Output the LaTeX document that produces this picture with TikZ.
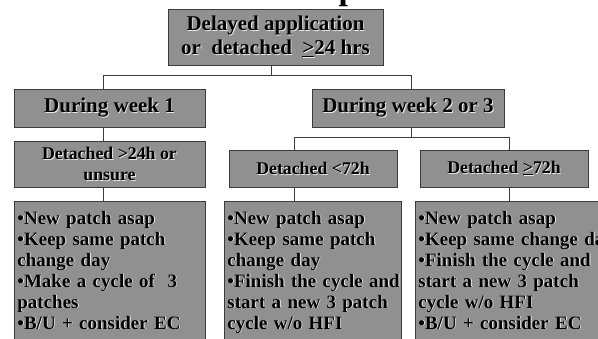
\documentclass[tikz,border=0pt]{standalone}
\usepackage{fontspec}
\setmainfont{Liberation Serif}
\usepackage{tikz}
\definecolor{boxfill}{RGB}{144,144,144}
\definecolor{boxline}{RGB}{60,60,60}
\definecolor{shade}{RGB}{235,235,235}
\newcommand\emb[1]{\mbox{\rlap{\kern0.9pt\raisebox{-0.9pt}{\textcolor{shade}{#1}}}#1}}
\tikzset{
  gbox/.style={draw=boxline, fill=boxfill, line width=0.8pt, inner sep=0pt, align=center},
  bigtxt/.style={font=\bfseries\fontsize{21}{24}\selectfont},
  midtxt/.style={font=\bfseries\fontsize{17.8}{21}\selectfont},
  listbox/.style={gbox, anchor=north west, align=left, inner xsep=3pt, inner ysep=9.5pt,
    font=\bfseries\fontsize{19}{21}\selectfont},
  link/.style={draw=boxline, line width=0.8pt}
}

\begin{document}
\begin{tikzpicture}[x=1pt, y=-1pt]
        \useasboundingbox (0,0) rectangle (598,339);
        \clip (0,0) rectangle (598,339);
        % title, cut off at the top edge
        \node (title) [anchor=base, inner sep=0pt, font=\bfseries\fontsize{34}{40}\selectfont] at (348,0) {p};
        % level 0
        \node (top) [gbox, bigtxt, minimum width=215, minimum height=56] at (275.5,37)
                {\emb{Delayed application}\\\emb{or~ detached~ \underline{>}24 hrs}};
        % level 1
        \node (week1) [gbox, bigtxt, minimum width=191, minimum height=38] at (109.5,108) {\emb{During week 1}};
        \node (week2) [gbox, bigtxt, minimum width=192, minimum height=38] at (408,108) {\emb{During week 2 or 3}};
        % level 2
        \node (det1) [gbox, midtxt, minimum width=191, minimum height=46] at (109.5,164)
                {\emb{Detached >24h or}\\\emb{unsure}};
        \node (det2) [gbox, midtxt, minimum width=168, minimum height=37] at (313,168.5) {\emb{Detached <72h}};
        \node (det3) [gbox, midtxt, minimum width=168, minimum height=37] at (504,168.5) {\emb{Detached \underline{>}72h}};
        % level 3
        \node (list1) [listbox, text width=185] at (14,201)
                {\emb{•New patch asap}\\\emb{•Keep same patch}\\\emb{change day}\\\emb{•Make a cycle of~ 3}\\\emb{patches}\\\emb{•B/U + consider EC}\\~};
        \node (list2) [listbox, text width=171] at (224,201)
                {\emb{•New patch asap}\\\emb{•Keep same patch}\\\emb{change day}\\\emb{•Finish the cycle and}\\\emb{start a new 3 patch}\\\emb{cycle w/o HFI}\\~};
        \node (list3) [listbox, text width=200] at (415,201)
                {\emb{•New patch asap}\\\emb{•Keep same change day}\\\emb{•Finish the cycle and}\\\emb{start a new 3 patch}\\\emb{cycle w/o HFI}\\\emb{•B/U + consider EC}\\~};
        % connectors
        \draw [link] ([xshift=-4.5pt]top.south) -- ++(0,10);
        \draw [link] ([xshift=-6.5pt]week1.north) |- ([xshift=-4.5pt,yshift=-10pt]top.south) -| ([xshift=3pt]week2.north);
        \draw [link] ([xshift=-6.5pt]week1.south) -- ([xshift=-6.5pt]week1.south |- det1.north);
        \draw [link] ([xshift=-6.5pt]det1.south) -- ([xshift=-6.5pt]det1.south |- list1.north);
        \draw [link] ([xshift=3pt]week2.south) -- ++(0,10);
        \draw [link] ([xshift=-19pt]det2.north) |- ([xshift=3pt,yshift=-10pt]week2.south) -| ([xshift=5pt]det3.north);
        \draw [link] ([xshift=-19pt]det2.south) -- ([xshift=-19pt]det2.south |- list2.north);
        \draw [link] ([xshift=5pt]det3.south) -- ([xshift=5pt]det3.south |- list3.north);
\end{tikzpicture}
\end{document}
